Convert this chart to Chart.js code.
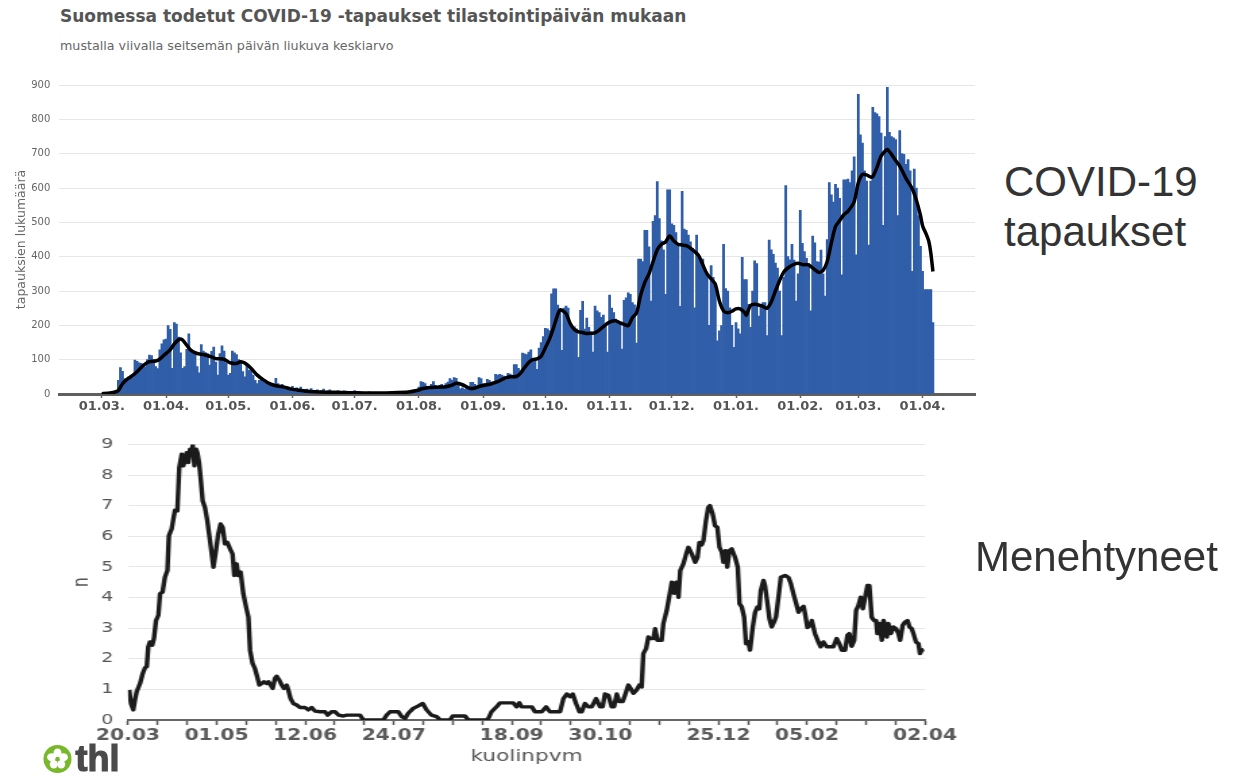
<!DOCTYPE html>
<html>
<head>
<meta charset="utf-8">
<title>COVID-19 tapaukset ja menehtyneet</title>
<script src="https://cdn.jsdelivr.net/npm/chart.js@4"></script>
<style>
    body { margin: 0; width: 1236px; height: 777px; background: #fff; position: relative; overflow: hidden; font-family: "DejaVu Sans", sans-serif; }
    .title { position: absolute; left: 60px; top: 6px; font: bold 17px "DejaVu Sans"; line-height: 20px; color: #555; white-space: nowrap; }
    .subtitle { position: absolute; left: 60px; top: 38px; font: 12.7px "DejaVu Sans"; line-height: 16px; color: #666; white-space: nowrap; }
    #casesWrap { position: absolute; left: 0; top: 70px; }
    #deathsWrap { position: absolute; left: 0; top: 425px; transform: scaleX(1.35); transform-origin: 0 0; }
    .side { position: absolute; font: 42px "Liberation Sans", Arial, sans-serif; line-height: 50px; color: #333; white-space: nowrap; }
    .logo { position: absolute; left: 40px; top: 743px; }
</style>
</head>
<body>
<div class="title">Suomessa todetut COVID-19 -tapaukset tilastointipäivän mukaan</div>
<div class="subtitle">mustalla viivalla seitsemän päivän liukuva keskiarvo</div>

<div id="casesWrap"><canvas id="casesChart" width="1000" height="360"></canvas></div>
<div id="deathsWrap"><canvas id="deathsChart" width="733" height="342"></canvas></div>

<div class="side" style="left:1004px; top:157px;">COVID-19<br>tapaukset</div>
<div class="side" style="left:975px; top:532px;">Menehtyneet</div>

<svg class="logo" width="90" height="34" viewBox="0 0 90 34">
    <circle cx="17.5" cy="16" r="14" fill="#78b82a"/>
    <g fill="#fff">
        <ellipse cx="17.5" cy="10" rx="4" ry="4.6"/>
        <ellipse cx="23.3" cy="14.2" rx="4.6" ry="4"/>
        <ellipse cx="21.2" cy="21.2" rx="4" ry="4.3"/>
        <ellipse cx="13.8" cy="21.2" rx="4" ry="4.3"/>
        <ellipse cx="11.7" cy="14.2" rx="4.6" ry="4"/>
    </g>
    <circle cx="17.5" cy="16" r="2.2" fill="#78b82a"/>
    <text x="35.5" y="28" font-family="Liberation Sans" font-weight="bold" font-size="36"
          fill="#4a4a4a" stroke="#4a4a4a" stroke-width="1.2">thl</text>
</svg>

<script>
// ---- upper chart: daily cases, day 0 = 01.03.2020 ----
const monthTickDays = [0, 31, 61, 92, 122, 153, 184, 214, 245, 275, 306, 337, 365, 396];
const monthTickLabels = ['01.03.', '01.04.', '01.05.', '01.06.', '01.07.', '01.08.', '01.09.',
    '01.10.', '01.11.', '01.12.', '01.01.', '01.02.', '01.03.', '01.04.'];

const dailyCases = [
    1, 2, 2, 4, 5, 6, 8,
    10, 40, 77, 66, 45, 40, 50,
    55, 48, 99, 95, 91, 89, 86,
    79, 100, 113, 112, 100, 80, 74,
    129, 146, 158, 160, 199, 188, 75,
    208, 204, 166, 120, 75, 80, 130,
    175, 131, 124, 116, 80, 62, 144,
    125, 121, 118, 84, 124, 137, 93,
    55, 118, 140, 125, 90, 55, 60,
    125, 120, 115, 100, 90, 65, 50,
    85, 70, 68, 55, 40, 30, 40,
    40, 36, 32, 28, 25, 27, 20,
    46, 30, 22, 28, 18, 20, 16,
    15, 22, 12, 18, 14, 20, 10,
    12, 14, 8, 16, 10, 9, 12,
    8, 10, 14, 6, 9, 12, 7,
    8, 5, 10, 7, 6, 9, 5,
    6, 4, 8, 10, 5, 7, 4,
    5, 3, 4, 6, 2, 5, 3,
    2, 4, 3, 5, 2, 3, 4,
    6, 3, 5, 4, 8, 5, 7,
    4, 6, 5, 10, 8, 12, 20,
    36, 34, 30, 22, 18, 28, 36,
    25, 22, 25, 28, 20, 30, 35,
    45, 40, 48, 46, 30, 15, 18,
    14, 20, 18, 34, 34, 28, 22,
    48, 45, 30, 30, 43, 40, 35,
    35, 57, 55, 57, 55, 52, 40,
    60, 58, 55, 86, 86, 75, 70,
    119, 117, 115, 122, 129, 101, 101,
    72, 134, 150, 167, 191, 190, 185,
    292, 306, 306, 259, 240, 127, 250,
    256, 250, 203, 194, 196, 190, 107,
    244, 270, 189, 221, 194, 180, 122,
    256, 242, 237, 223, 230, 200, 122,
    288, 250, 237, 218, 213, 205, 131,
    273, 280, 295, 290, 266, 260, 148,
    393, 393, 386, 477, 477, 429, 271,
    503, 520, 619, 511, 446, 420, 290,
    595, 595, 496, 491, 470, 434, 255,
    590, 480, 477, 463, 443, 424, 251,
    463, 400, 386, 393, 357, 347, 200,
    374, 340, 314, 155, 184, 199, 436,
    307, 300, 251, 200, 136, 208, 190,
    175, 398, 333, 333, 261, 194, 300,
    388, 380, 227, 261, 266, 266, 170,
    448, 420, 407, 381, 367, 300, 170,
    340, 607, 400, 391, 436, 390, 271,
    350, 535, 439, 415, 395, 380, 242,
    460, 440, 386, 384, 419, 350, 285,
    450, 616, 580, 559, 611, 600, 570,
    347, 624, 624, 626, 616, 650, 691,
    405, 873, 755, 731, 650, 620, 434,
    620, 835, 820, 816, 808, 760, 491,
    750, 893, 762, 750, 746, 741, 520,
    767, 700, 698, 669, 683, 650, 357,
    655, 600, 520, 430, 357, 304, 304,
    304, 304, 208
];

// 7 day moving average
const avgDays = [0, 3, 6, 8, 10, 12, 14, 17, 20, 23, 26, 28, 30, 33, 35, 37, 38, 39, 41, 43,
    46, 49, 52, 55, 57, 59, 62, 65, 67, 69, 72, 75, 78, 81, 84, 88, 91, 94, 99, 105,
    112, 120, 130, 140, 148, 152, 155, 158, 162, 166, 169, 171, 174, 177, 179, 182, 185, 188, 191, 194,
    197, 200, 202, 204, 206, 208, 210, 212, 214, 216, 218, 220, 221, 222, 224, 226, 228, 230, 232, 234,
    236, 238, 240, 242, 244, 246, 248, 250, 252, 254, 256, 258, 260, 262, 264, 266, 268, 270, 272, 274,
    276, 278, 280, 282, 284, 286, 288, 290, 292, 294, 296, 298, 300, 302, 304, 306, 308, 310, 311, 313,
    316, 319, 321, 323, 325, 327, 329, 331, 334, 336, 338, 341, 344, 346, 348, 350, 352, 354, 356, 358,
    360, 363, 365, 367, 369, 371, 372, 374, 376, 378, 379, 381, 383, 385, 388, 391, 393, 395, 396, 398,
    399, 400, 401];
const avgValues = [1, 2, 5, 10, 30, 42, 50, 65, 83, 94, 96, 102, 113, 129, 146, 158, 160, 157, 142, 127,
    118, 115, 110, 103, 103, 101, 91, 89, 94, 90, 75, 55, 41, 30, 24, 20, 15, 12, 8, 6,
    5, 4, 3, 4, 6, 10, 16, 19, 20, 21, 26, 31, 27, 18, 16, 22, 26, 30, 36, 45,
    50, 51, 60, 77, 92, 100, 102, 110, 135, 160, 194, 232, 245, 244, 234, 205, 188, 181, 179, 176,
    177, 178, 186, 196, 206, 212, 213, 207, 203, 199, 222, 236, 288, 325, 350, 386, 420, 436, 443, 460,
    446, 436, 434, 432, 425, 415, 403, 376, 350, 335, 320, 270, 242, 237, 241, 248, 248, 238, 230, 258,
    261, 255, 250, 268, 300, 330, 355, 367, 378, 381, 377, 376, 362, 354, 360, 386, 440, 488, 505, 522,
    532, 560, 615, 640, 638, 632, 633, 660, 693, 708, 712, 698, 680, 664, 628, 598, 565, 520, 490, 462,
    445, 410, 357];

// ---- lower chart: deaths, day 0 = 20.03.2020 ----
const deathLabelDays = [0, 42, 84, 126, 182, 224, 280, 322, 378];
const deathLabelTexts = ['20.03', '01.05', '12.06', '24.07', '18.09', '30.10', '25.12', '05.02', '02.04'];

const deathDays = [0.6, 1.4, 2.5, 3.3, 4.1, 5.7, 7, 8.1, 8.9, 9.6,
    10.4, 11.5, 12.3, 13.3, 14.4, 15.2, 16.4, 17.5, 18.7, 19.4,
    20.7, 21.5, 22.3, 23.4, 24.3, 25.5, 26.2, 27, 27.8, 28.6,
    29.4, 30.2, 30.7, 31.5, 32.3, 32.9, 33.7, 34.5, 35.4, 36.5,
    37.6, 38.9, 40.5, 41.7, 42.8, 43.9, 44.9, 46, 47.1, 48.4,
    49.6, 50.4, 51.5, 52.3, 53.4, 54.7, 56, 57.1, 57.9, 59.1,
    60.2, 61.3, 62.3, 63.4, 64.5, 65.8, 66.6, 67.7, 68.6, 69.7,
    70.5, 71.8, 72.9, 74, 75.3, 76, 77.1, 78.4, 80, 81.6,
    83.9, 85.5, 87.1, 88.7, 91.1, 93.4, 94.7, 96.6, 98.2, 99.8,
    102.1, 103.7, 110, 111.6, 121.1, 122.7, 124.3, 128.2, 129.8, 131.4,
    132.9, 135.3, 137.7, 139.8, 141.6, 143.9, 146.4, 148, 152.7, 154,
    159.8, 161.4, 170, 170.9, 172.4, 174.8, 176.4, 182.7, 184.3, 185.6,
    186.7, 191.5, 193, 196.2, 198.3, 200.1, 204.9, 206.5, 208.1, 209.6,
    210.9, 212.5, 214.1, 215.2, 216.7, 218.3, 219.9, 222, 223.9, 225.1,
    226.2, 227.8, 229.4, 230.5, 231.8, 233, 234.6, 235.7, 237.3, 238.4,
    239.7, 241.2, 242.5, 243.6, 244.4, 245.7, 246.8, 247.6, 249.2, 250,
    251.1, 253.1, 253.9, 255.5, 257.1, 257.9, 259, 260, 261.1, 261.9,
    263.4, 264.7, 265.8, 267.4, 269, 270.1, 271, 272.1, 272.9, 274.1,
    275.2, 276, 277.3, 278.4, 279.5, 280.5, 281.6, 282.4, 283.4, 284.2,
    285.2, 286.3, 287.9, 289.2, 290, 291.1, 292.2, 293.1, 294.2, 295,
    296.3, 297.4, 298.5, 299.4, 300.1, 301.4, 302.1, 303.2, 304.2, 305.3,
    306.4, 307.3, 308.5, 309.6, 311.6, 313.2, 314.4, 315.6, 316.9, 318,
    319.1, 320.4, 321.1, 322.2, 323.5, 324.3, 325.8, 327.4, 328.5, 329.8,
    331.4, 334.5, 336.1, 337.4, 338.5, 340.1, 341.2, 342.1, 343.2, 344.4,
    345.3, 346.4, 347.5, 348.5, 349.6, 350.7, 351.6, 352.7, 353.8, 354.8,
    355.4, 356.4, 357.5, 358.3, 359.1, 359.9, 360.6, 361.8, 363, 364.3,
    365.4, 366.2, 367.4, 368.5, 369.7, 370.6, 371.7, 372.5, 373.7, 374.9,
    375.6, 376.4, 377.5];
const deathValues = [0.98, 0.54, 0.33, 0.65, 0.92, 1.19, 1.52, 1.71, 1.74, 2.39,
    2.55, 2.44, 2.66, 3.25, 3.42, 4.12, 4.18, 4.66, 4.88, 6.02,
    6.24, 6.56, 6.85, 6.83, 8.24, 8.68, 8.3, 8.46, 8.73, 8.41,
    8.84, 8.68, 8.98, 8.3, 8.84, 8.73, 8.41, 7.86, 7.16, 6.94,
    6.51, 5.86, 4.99, 5.53, 6.07, 6.4, 6.29, 5.75, 5.8, 5.59,
    5.42, 4.72, 5.1, 4.72, 4.83, 4.12, 3.69, 3.36, 2.28, 1.84,
    1.68, 1.41, 1.14, 1.19, 1.25, 1.19, 1.25, 1.14, 1.03, 1.36,
    1.43, 1.3, 1.14, 1.03, 1.14, 0.98, 0.7, 0.54, 0.49, 0.41,
    0.41, 0.33, 0.41, 0.29, 0.27, 0.27, 0.16, 0.27, 0.27, 0.16,
    0.13, 0.16, 0.16, 0, 0, 0.16, 0.27, 0.27, 0.11, 0.05,
    0.22, 0.38, 0.46, 0.54, 0.33, 0.16, 0.11, 0, 0, 0.13,
    0.13, 0, 0, 0.05, 0.27, 0.43, 0.56, 0.56, 0.43, 0.56,
    0.43, 0.43, 0.27, 0.27, 0.43, 0.27, 0.27, 0.7, 0.85, 0.76,
    0.85, 0.54, 0.27, 0.27, 0.54, 0.43, 0.43, 0.7, 0.43, 0.43,
    0.85, 0.81, 0.43, 0.43, 0.85, 0.6, 0.6, 0.81, 1.14, 1.03,
    0.87, 0.98, 1.14, 1.08, 2.17, 2.33, 2.71, 2.66, 2.66, 2.98,
    2.6, 2.6, 3.15, 3.58, 4.18, 4.5, 4.14, 4.5, 4.01, 4.88,
    5.1, 5.42, 5.64, 5.42, 5.15, 5.31, 5.8, 5.72, 5.86, 6.51,
    6.94, 7, 6.72, 6.34, 6.29, 5.64, 5.48, 5.15, 5.53, 4.99,
    5.53, 5.59, 5.31, 4.99, 3.8, 3.69, 3.36, 2.49, 2.55, 2.28,
    3.04, 3.52, 3.69, 3.63, 4.23, 4.56, 4.39, 3.85, 3.31, 3.04,
    3.2, 3.36, 4.01, 4.66, 4.72, 4.66, 4.45, 4.12, 3.8, 3.52,
    3.63, 3.71, 3.47, 3.02, 3.09, 3.25, 2.82, 2.55, 2.39, 2.55,
    2.39, 2.39, 2.66, 2.49, 2.28, 2.28, 2.77, 2.82, 2.41, 2.6,
    3.58, 3.74, 4.01, 3.63, 4.01, 4.39, 4.39, 3.36, 3.25, 3.25,
    2.82, 3.15, 2.6, 3.25, 3.09, 2.71, 3.15, 2.82, 3.04, 2.98,
    2.82, 2.6, 3.09, 3.2, 3.25, 3.04, 2.98, 2.82, 2.55, 2.49,
    2.17, 2.28, 2.3];

const noPlugins = { legend: { display: false }, tooltip: { enabled: false } };

new Chart(document.getElementById('casesChart'), {
    type: 'bar',
    data: {
        datasets: [
            {
                type: 'line',
                data: avgDays.map((d, i) => ({ x: d, y: avgValues[i] })),
                borderColor: '#000',
                borderWidth: 3.5,
                borderJoinStyle: 'round',
                pointRadius: 0,
                tension: 0.25,
                order: 0
            },
            {
                type: 'bar',
                data: dailyCases.map((v, i) => ({ x: i, y: v })),
                backgroundColor: '#305ea8',
                barPercentage: 1,
                categoryPercentage: 1,
                order: 1
            }
        ]
    },
    options: {
        responsive: false,
        animation: false,
        devicePixelRatio: 1,
        layout: { padding: { top: 11.7, right: 25, bottom: 0, left: 0 } },
        plugins: noPlugins,
        scales: {
            x: {
                type: 'linear',
                min: -20.5,
                max: 421.3,
                offset: false,
                afterBuildTicks: s => { s.ticks = monthTickDays.map(v => ({ value: v })); },
                afterFit: s => { s.height = 36; },
                ticks: {
                    autoSkip: false,
                    maxRotation: 0,
                    padding: 1,
                    color: '#555',
                    font: { family: 'DejaVu Sans', size: 13, weight: 'bold' },
                    callback: v => monthTickLabels[monthTickDays.indexOf(v)]
                },
                grid: { offset: false, drawOnChartArea: false, tickLength: 4, tickColor: '#666', tickWidth: 1.5 },
                border: { color: '#5f5f5f', width: 3 }
            },
            y: {
                min: 0,
                max: 900,
                afterFit: s => { s.width = 59.3; },
                ticks: { stepSize: 100, padding: 9, color: '#666', font: { family: 'DejaVu Sans', size: 10 } },
                grid: { color: '#e6e6e6', drawTicks: false },
                border: { display: false },
                title: {
                    display: true,
                    text: 'tapauksien lukumäärä',
                    color: '#666',
                    font: { family: 'DejaVu Sans', size: 12.5 },
                    padding: { top: 14, bottom: 0 }
                }
            }
        }
    }
});

new Chart(document.getElementById('deathsChart'), {
    type: 'line',
    data: {
        datasets: [{
            data: deathDays.map((d, i) => ({ x: d, y: deathValues[i] })),
            borderColor: '#1b1b1b',
            borderWidth: 3.4,
            borderJoinStyle: 'round',
            pointRadius: 0,
            tension: 0
        }]
    },
    options: {
        responsive: false,
        animation: false,
        devicePixelRatio: 1,
        layout: { padding: { top: 18, right: 47.8, bottom: 0, left: 0 } },
        plugins: noPlugins,
        scales: {
            x: {
                type: 'linear',
                min: 0,
                max: 378,
                afterFit: s => { s.height = 47; },
                ticks: {
                    stepSize: 14,
                    autoSkip: false,
                    maxRotation: 0,
                    padding: 2,
                    color: '#5a5a5a',
                    font: { family: 'DejaVu Sans', size: 15, weight: 'bold' },
                    callback: v => {
                        const k = deathLabelDays.indexOf(v);
                        return k < 0 ? '' : deathLabelTexts[k];
                    }
                },
                grid: { drawOnChartArea: false, tickLength: 5, tickColor: '#555', tickWidth: 1.5 },
                border: { color: '#666', width: 2 },
                title: {
                    display: true,
                    text: 'kuolinpvm',
                    color: '#555',
                    font: { family: 'DejaVu Sans', size: 16 },
                    padding: { top: 0, bottom: 1 }
                }
            },
            y: {
                min: 0,
                max: 9,
                afterFit: s => { s.width = 94.8; },
                ticks: { stepSize: 1, padding: 11, color: '#555', font: { family: 'DejaVu Sans', size: 14 } },
                grid: { color: '#e6e6e6', drawTicks: false },
                border: { display: false },
                title: {
                    display: true,
                    text: 'n',
                    color: '#555',
                    font: { family: 'DejaVu Sans', size: 16 },
                    padding: { top: 51, bottom: 0 }
                }
            }
        }
    }
});
</script>
</body>
</html>
